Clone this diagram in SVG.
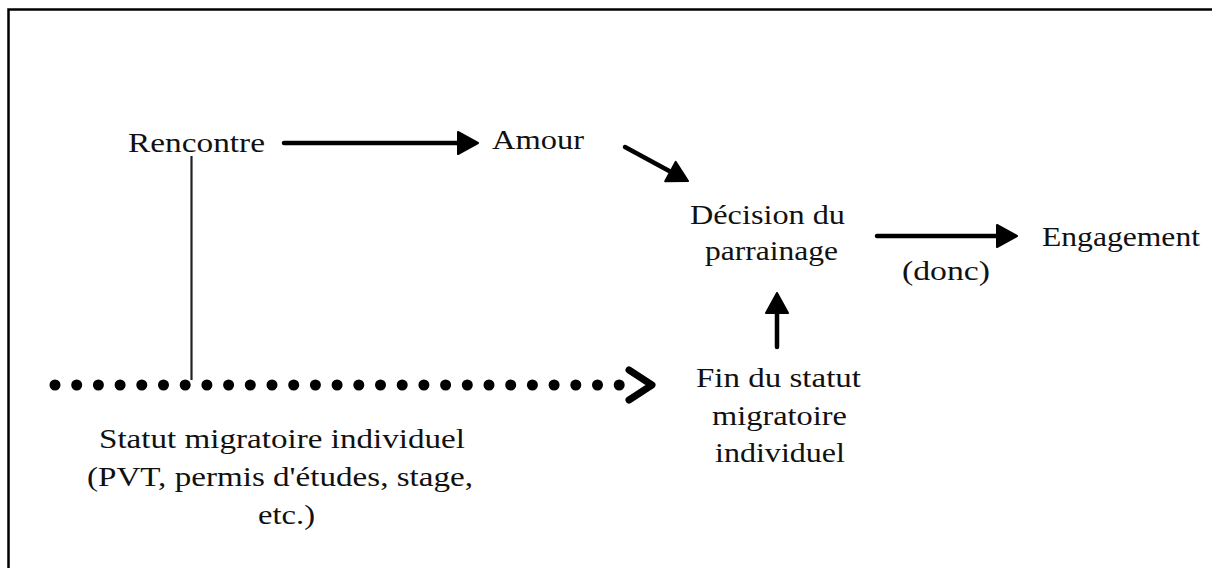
<svg xmlns="http://www.w3.org/2000/svg" width="1212" height="568" viewBox="0 0 1212 568">
<defs>
<style>
text{font-family:'Liberation Serif','Times New Roman',Times,serif;font-size:28px;fill:#111}
.a{stroke:#000;stroke-width:4.5;fill:none;stroke-linecap:round}
</style>
<marker id="ah" markerUnits="userSpaceOnUse" markerWidth="24" markerHeight="26" viewBox="-2 -2 24 26" refX="6" refY="11" orient="auto">
<path d="M0,0 L20,11 L0,22 z" fill="#000" stroke="#000" stroke-width="2" stroke-linejoin="round"/>
</marker>
</defs>
<rect width="1212" height="568" fill="#fff"/>
<path d="M8.5,580 V9.5 H1220" fill="none" stroke="#000" stroke-width="2.5"/>
<g id="connectors">
<line class="a" x1="284" y1="143" x2="464" y2="143" marker-end="url(#ah)"/>
<line class="a" x1="625" y1="147" x2="675.7" y2="174.4" marker-end="url(#ah)"/>
<line class="a" x1="877" y1="236" x2="1003" y2="236" marker-end="url(#ah)"/>
<line class="a" x1="777" y1="347" x2="777" y2="307" marker-end="url(#ah)"/>
<line x1="191.5" y1="156" x2="191.5" y2="380" stroke="#222" stroke-width="2.2"/>
<line x1="55" y1="385" x2="620" y2="385" stroke="#000" stroke-width="11" stroke-linecap="round" stroke-dasharray="0 21.7"/>
<polyline points="629,370 652,385 629,400" fill="none" stroke="#000" stroke-width="7" stroke-linecap="round" stroke-linejoin="round"/>
</g>
<g id="rencontre"><text x="128" y="152" textLength="137" lengthAdjust="spacingAndGlyphs">Rencontre</text></g>
<g id="amour"><text x="492" y="149" textLength="92" lengthAdjust="spacingAndGlyphs">Amour</text></g>
<g id="decision">
<text x="690" y="224" textLength="155" lengthAdjust="spacingAndGlyphs">Décision du</text>
<text x="705" y="260" textLength="133" lengthAdjust="spacingAndGlyphs">parrainage</text>
</g>
<g id="engagement"><text x="1042" y="246" textLength="158" lengthAdjust="spacingAndGlyphs">Engagement</text></g>
<g id="donc"><text x="902" y="280" textLength="88" lengthAdjust="spacingAndGlyphs">(donc)</text></g>
<g id="fin">
<text x="696" y="387" textLength="165" lengthAdjust="spacingAndGlyphs">Fin du statut</text>
<text x="712" y="425" textLength="135" lengthAdjust="spacingAndGlyphs">migratoire</text>
<text x="715" y="462" textLength="130" lengthAdjust="spacingAndGlyphs">individuel</text>
</g>
<g id="statut">
<text x="99" y="448" textLength="366" lengthAdjust="spacingAndGlyphs">Statut migratoire individuel</text>
<text x="87" y="486" textLength="386" lengthAdjust="spacingAndGlyphs">(PVT, permis d'études, stage,</text>
<text x="258" y="524" textLength="57" lengthAdjust="spacingAndGlyphs">etc.)</text>
</g>
</svg>
